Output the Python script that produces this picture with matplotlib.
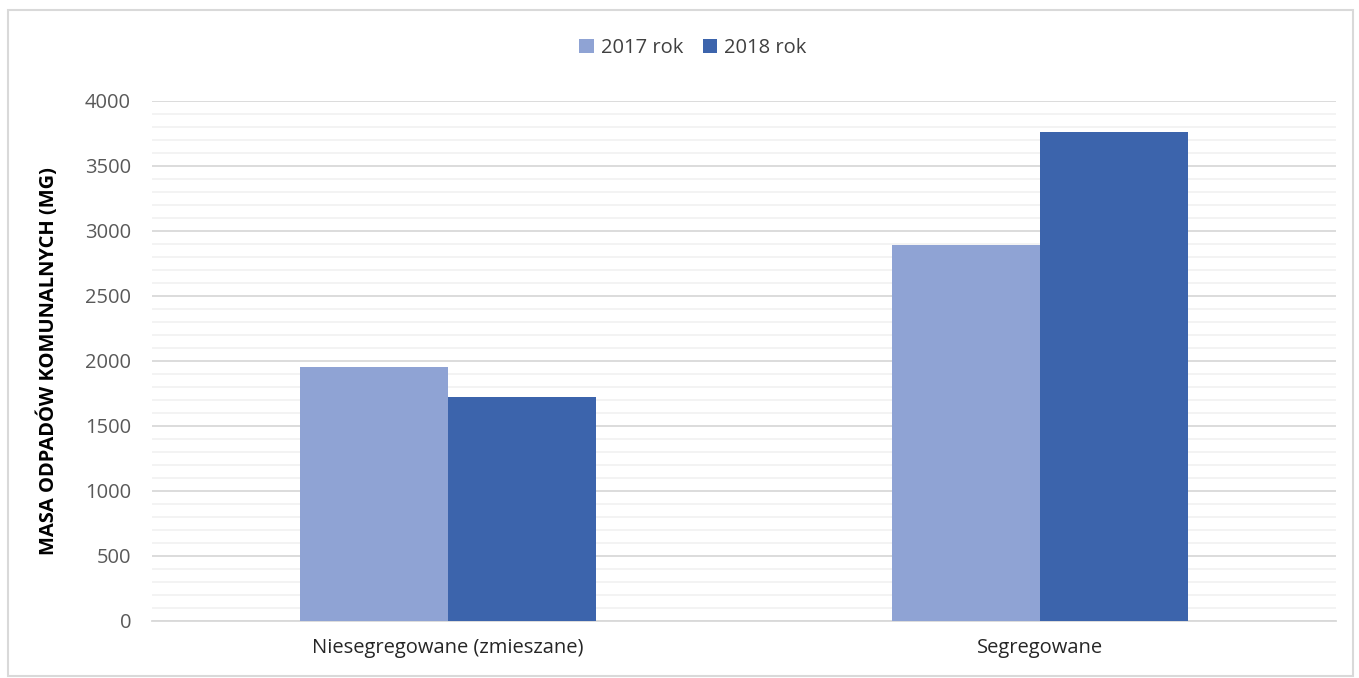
import matplotlib.pyplot as plt
import numpy as np
from matplotlib.patches import Rectangle
from matplotlib.ticker import MultipleLocator

categories = ["Niesegregowane (zmieszane)", "Segregowane"]
series_names = ["2017 rok", "2018 rok"]
values_2017 = [1950, 2895]
values_2018 = [1720, 3765]
colors = ["#8FA3D4", "#3C64AC"]

plt.rcParams['font.family'] = ['Open Sans', 'DejaVu Sans']
fs = 14.5

fig = plt.figure(figsize=(13.59, 6.78), dpi=100)
ax = fig.add_axes([0.1118, 0.0841, 0.8712, 0.767])

x = np.arange(len(categories))
w = 0.25
ax.bar(x - w / 2, values_2017, w, color=colors[0], label=series_names[0], zorder=3)
ax.bar(x + w / 2, values_2018, w, color=colors[1], label=series_names[1], zorder=3)

ax.set_xlim(-0.5, 1.5)
ax.set_ylim(0, 4000)
ax.yaxis.set_major_locator(MultipleLocator(500))
ax.yaxis.set_minor_locator(MultipleLocator(100))
ax.grid(which='major', axis='y', color='#D9D9D9', linewidth=1.3, zorder=0)
ax.grid(which='minor', axis='y', color='#F2F2F2', linewidth=1.3, zorder=0)
ax.set_xticks(x)
ax.set_xticklabels(categories, fontsize=fs, color='#262626')
ax.tick_params(axis='y', which='both', length=0, labelsize=fs, labelcolor='#595959', pad=15)
ax.tick_params(axis='x', length=0, pad=12)
for s in ['top', 'right', 'left']:
    ax.spines[s].set_visible(False)
ax.spines['bottom'].set_color('#D9D9D9')
ax.spines['bottom'].set_linewidth(1.3)

ax.set_ylabel("MASA ODPADÓW KOMUNALNYCH (MG)", fontsize=fs, fontweight='bold',
              color='#000000', labelpad=19)

fig.legend(loc='center', bbox_to_anchor=(0.51, 0.929), ncol=2, frameon=False,
           fontsize=fs, handlelength=0.7, handleheight=0.7, handletextpad=0.35,
           columnspacing=1.0, labelcolor='#404040')

fig.patches.append(Rectangle((8 / 1359, 2 / 678), 1345 / 1359, 666 / 678,
                             transform=fig.transFigure, fill=False,
                             edgecolor='#D9D9D9', linewidth=1.5))

fig.savefig("out.png")
